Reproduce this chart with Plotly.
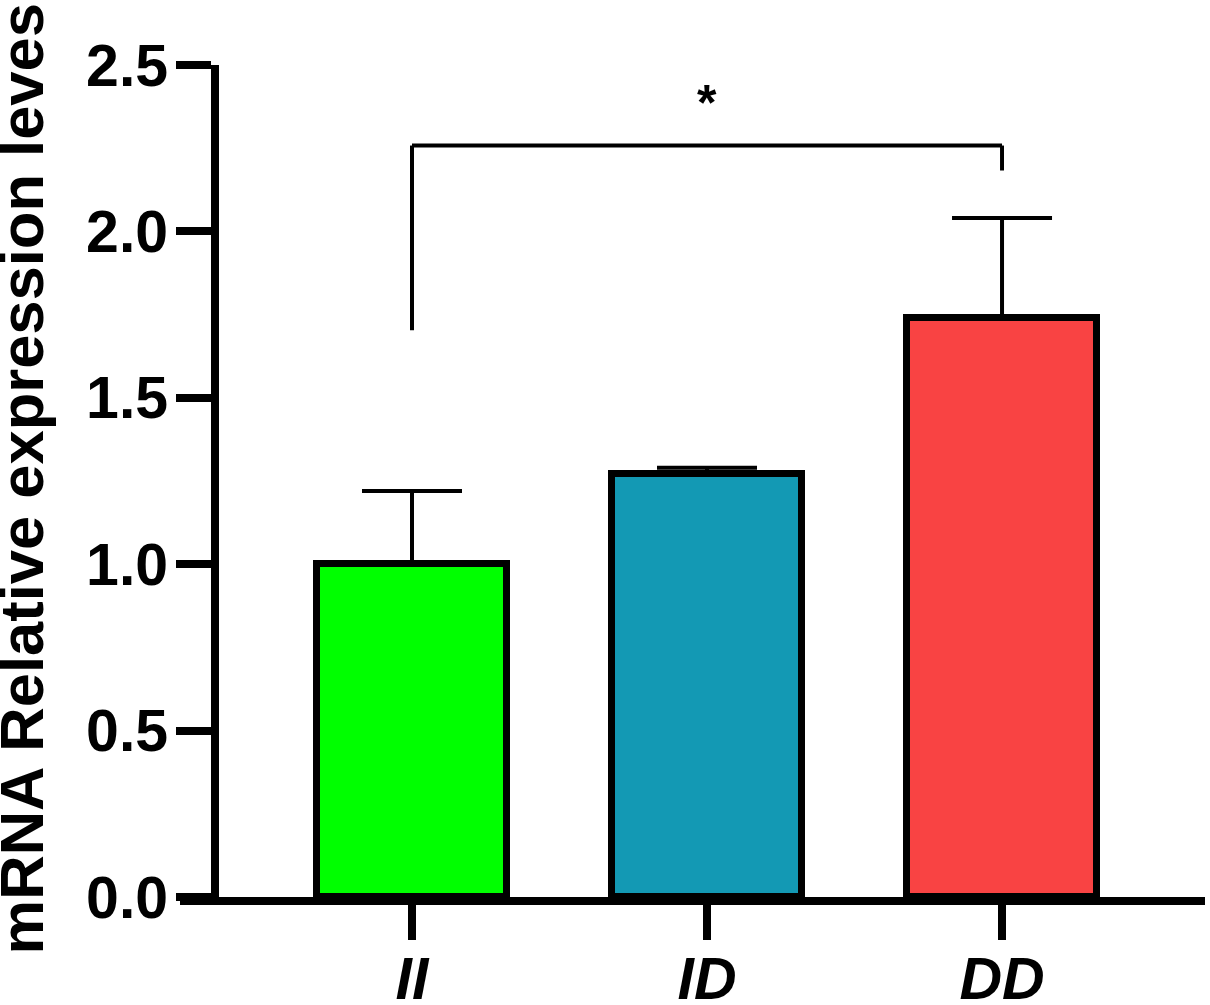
import plotly.graph_objects as go

categories = ["II", "ID", "DD"]
means = [1.00, 1.27, 1.74]
errors_up = [0.22, 0.02, 0.30]
bar_colors = ["#00FF00", "#1399B4", "#F94343"]

y_title = "mRNA Relative expression leves"
y_ticks = [0.0, 0.5, 1.0, 1.5, 2.0, 2.5]

# significance bracket between II (0) and DD (2)
sig_pair = [0, 2]
sig_top = 2.258
sig_leg_bottoms = [1.703, 2.183]
sig_label = "*"
sig_label_y = 2.385

FONT = "Liberation Sans, Arial, sans-serif"

fig = go.Figure()
fig.add_trace(go.Bar(
    x=list(range(len(categories))),
    y=means,
    width=0.644,
    marker=dict(color=bar_colors, line=dict(color="black", width=7)),
    error_y=dict(type="data", symmetric=False, array=errors_up,
                 arrayminus=[0] * len(means), color="black",
                 thickness=4, width=50),
    showlegend=False,
))

x0, x1 = sig_pair
fig.add_shape(type="line", xref="x", yref="y", x0=x0, x1=x0,
              y0=sig_leg_bottoms[0], y1=sig_top, line=dict(color="black", width=4))
fig.add_shape(type="line", xref="x", yref="y", x0=x0, x1=x1,
              y0=sig_top, y1=sig_top, line=dict(color="black", width=4))
fig.add_shape(type="line", xref="x", yref="y", x0=x1, x1=x1,
              y0=sig_leg_bottoms[1], y1=sig_top, line=dict(color="black", width=4))
fig.add_annotation(x=(x0 + x1) / 2, y=sig_label_y, xref="x", yref="y",
                   text="<b>" + sig_label + "</b>", showarrow=False,
                   font=dict(family=FONT, size=50, color="black"),
                   xanchor="center", yanchor="middle")

fig.add_annotation(x=-0.155, y=0.502, xref="paper", yref="paper",
                   text="<b>" + y_title + "</b>", textangle=-90, showarrow=False,
                   font=dict(family=FONT, size=61.5, color="black"),
                   xanchor="center", yanchor="middle")

fig.update_layout(
    width=1210, height=1005,
    margin=dict(l=180, r=5, t=65, b=108),
    paper_bgcolor="white", plot_bgcolor="white",
    bargap=0,
    xaxis=dict(
        range=[-0.7864, 2.688],
        tickmode="array",
        tickvals=list(range(len(categories))),
        ticktext=["<b><i>" + c + "</i></b>" for c in categories],
        tickfont=dict(family=FONT, size=59, color="black"),
        ticks="outside", ticklen=35, tickwidth=8, tickcolor="black",
        showline=True, linewidth=8, linecolor="black",
        showgrid=False, zeroline=False,
        ticklabelstandoff=-12,
        automargin=False,
    ),
    yaxis=dict(
        range=[0, 2.5],
        tickmode="array",
        tickvals=y_ticks,
        ticktext=["%.1f" % t for t in y_ticks],
        tickfont=dict(family=FONT, size=59, color="black", weight="bold"),
        ticks="outside", ticklen=35, tickwidth=8, tickcolor="black",
        showline=True, linewidth=8, linecolor="black",
        showgrid=False, zeroline=False,
        anchor="free", position=0.0341,
        ticklabelstandoff=-4,
        automargin=False,
    ),
)

fig.write_html("out.html", config={"displayModeBar": False},
               post_script="document.body.style.margin='0';document.body.style.overflow='hidden';")
